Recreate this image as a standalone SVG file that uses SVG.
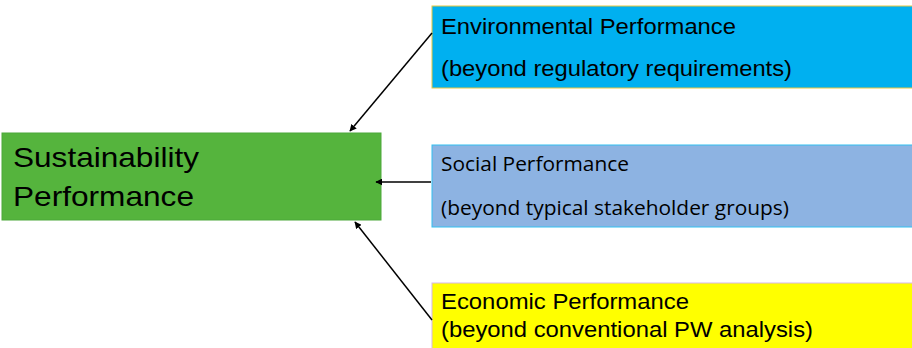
<svg xmlns="http://www.w3.org/2000/svg" width="912" height="348" viewBox="0 0 912 348">
<defs>
<marker id="ah" viewBox="0 0 10 10" refX="9" refY="5" markerWidth="7" markerHeight="7" markerUnits="userSpaceOnUse" orient="auto"><path d="M0,0 L10,5 L0,10 z" fill="#000"/></marker>
<style>
.a{font-family:"Liberation Sans",Arial,sans-serif;font-size:22.5px;fill:#000}
.c{font-family:"Open Sans","Noto Sans",sans-serif;font-size:20px;fill:#000}
.big{font-family:"Liberation Sans",Arial,sans-serif;font-size:28.5px;fill:#000}
.conn{stroke:#000;stroke-width:1.5;fill:none;marker-end:url(#ah)}
</style>
</defs>
<rect width="912" height="348" fill="#fff"/>
<g id="sustainability">
<rect x="2" y="133" width="379" height="87" fill="#55B43D" stroke="#4CA83A" stroke-width="1"/>
<text class="big" x="13" y="167" textLength="186" lengthAdjust="spacingAndGlyphs">Sustainability</text>
<text class="big" x="13" y="206" textLength="181" lengthAdjust="spacingAndGlyphs">Performance</text>
</g>
<g id="environmental">
<rect x="432" y="6" width="481" height="82" fill="#00B0F0" stroke="#E8C840" stroke-width="1"/>
<text class="a" x="441" y="34" textLength="295" lengthAdjust="spacingAndGlyphs">Environmental Performance</text>
<text class="a" x="441" y="76" textLength="351" lengthAdjust="spacingAndGlyphs">(beyond regulatory requirements)</text>
</g>
<g id="social">
<rect x="432" y="145" width="481" height="82" fill="#8DB3E2" stroke="#33C0F0" stroke-width="1"/>
<text class="c" x="441" y="171" textLength="188" lengthAdjust="spacingAndGlyphs">Social Performance</text>
<text class="c" x="441" y="215" textLength="348" lengthAdjust="spacingAndGlyphs">(beyond typical stakeholder groups)</text>
</g>
<g id="economic">
<rect x="432" y="283" width="481" height="66" fill="#FFFF00" stroke="#D8B8E8" stroke-width="1"/>
<text class="a" x="441" y="309" textLength="248" lengthAdjust="spacingAndGlyphs">Economic Performance</text>
<text class="a" x="441" y="337" textLength="372" lengthAdjust="spacingAndGlyphs">(beyond conventional PW analysis)</text>
</g>
<g id="connectors">
<line class="conn" x1="432" y1="33" x2="350" y2="131"/>
<line class="conn" x1="431" y1="182" x2="376" y2="182"/>
<line class="conn" x1="432" y1="320" x2="355" y2="222"/>
</g>
</svg>
